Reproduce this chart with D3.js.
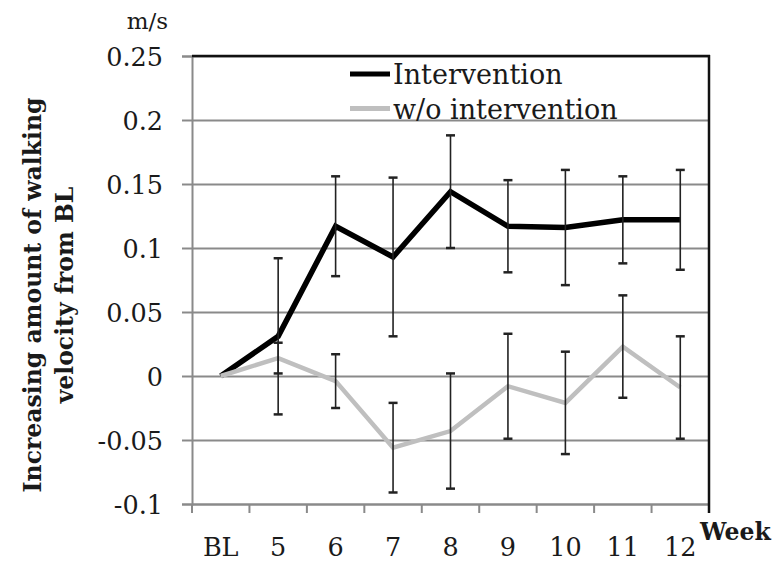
<!DOCTYPE html>
<html>
<head>
<meta charset="utf-8">
<script src="https://cdn.jsdelivr.net/npm/d3@7"></script>
<style>
  html, body { margin: 0; padding: 0; background: #fff; }
  svg { display: block; }
  text { font-family: "DejaVu Serif", "Liberation Serif", serif; fill: #1a1a1a; }
</style>
</head>
<body>
<svg id="chart" width="775" height="566"></svg>
<script>
// Weeks along the x axis
const categories = ["BL", "5", "6", "7", "8", "9", "10", "11", "12"];

// Change in walking velocity from baseline (m/s), mean and error
const interventionMean = [0, 0.031, 0.117, 0.093, 0.144, 0.117, 0.116, 0.122, 0.122];
const interventionErr  = [0, 0.061, 0.039, 0.062, 0.044, 0.036, 0.045, 0.034, 0.039];
const controlMean = [0, 0.014, -0.004, -0.056, -0.043, -0.008, -0.021, 0.023, -0.009];
const controlErr  = [0, 0.012, 0.021, 0.035, 0.045, 0.041, 0.040, 0.040, 0.040];

const seriesNames = ["Intervention", "w/o intervention"];

// Y axis ticks and their printed labels
const yTicks = [0.25, 0.2, 0.15, 0.1, 0.05, 0, -0.05, -0.1];
const yTickLabels = ["0.25", "0.2", "0.15", "0.1", "0.05", "0", "-0.05", "-0.1"];

const axisTitleLines = ["Increasing amount of walking", "velocity from BL"];
const unitLabel = "m/s";
const xTitle = "Week";

const svg = d3.select("#chart");
const plot = { left: 192, right: 709, top: 56, bottom: 504 };

const x = d3.scaleBand().domain(categories).range([plot.left, plot.right]).padding(0);
const y = d3.scaleLinear().domain([-0.1, 0.25]).range([plot.bottom, plot.top]);
const cx = c => x(c) + x.bandwidth() / 2;

const gridColor = "#8a8a8a";

// Horizontal gridlines
const grid = svg.append("g")
  .attr("transform", `translate(${plot.left},0)`)
  .call(d3.axisLeft(y).tickValues(yTicks).tickSize(-(plot.right - plot.left)).tickFormat(""));
grid.select(".domain").remove();
grid.selectAll("line").attr("stroke", gridColor).attr("stroke-width", 2);

// Left axis with tick labels
const yAxis = svg.append("g")
  .attr("transform", `translate(${plot.left},0)`)
  .call(d3.axisLeft(y).tickValues(yTicks).tickSize(10).tickPadding(19)
    .tickFormat((d, i) => yTickLabels[i]));
yAxis.select(".domain").attr("stroke", gridColor).attr("stroke-width", 2);
yAxis.selectAll("line").attr("stroke", gridColor).attr("stroke-width", 2);
yAxis.selectAll("text")
  .style("font-size", "25.5px")
  .attr("fill", "#1a1a1a")
  .attr("dy", "0.36em");

// Bottom axis: labels centred in each week band
const xAxis = svg.append("g")
  .attr("transform", `translate(0,${plot.bottom})`)
  .call(d3.axisBottom(x).tickSize(0).tickPadding(34));
xAxis.select(".domain").attr("stroke", gridColor).attr("stroke-width", 2);
xAxis.selectAll("text").style("font-size", "25.5px").attr("fill", "#1a1a1a");

// Tick marks at the band boundaries
const boundaries = categories.map(c => x(c)).concat([plot.right]);
svg.append("g").selectAll("line")
  .data(boundaries)
  .join("line")
  .attr("x1", d => d).attr("x2", d => d)
  .attr("y1", plot.bottom).attr("y2", plot.bottom + 9)
  .attr("stroke", gridColor).attr("stroke-width", 2);

// Black frame on the top and right sides
svg.append("line")
  .attr("x1", plot.left).attr("x2", plot.right + 1)
  .attr("y1", y(0.25)).attr("y2", y(0.25))
  .attr("stroke", "#111").attr("stroke-width", 2.5);
svg.append("line")
  .attr("x1", plot.right).attr("x2", plot.right)
  .attr("y1", y(0.25) - 1).attr("y2", plot.bottom + 9)
  .attr("stroke", "#111").attr("stroke-width", 2.5);

// Series lines
const line = d3.line().x(d => cx(d.c)).y(d => y(d.v));
const series = [
  { name: seriesNames[0], mean: interventionMean, err: interventionErr, color: "#000", width: 5.5 },
  { name: seriesNames[1], mean: controlMean, err: controlErr, color: "#bfbfbf", width: 4.5 }
];

series.forEach(s => {
  const pts = categories.map((c, i) => ({ c, v: s.mean[i], e: s.err[i] }));
  svg.append("path")
    .datum(pts)
    .attr("d", line)
    .attr("fill", "none")
    .attr("stroke", s.color)
    .attr("stroke-width", s.width)
    .attr("stroke-linejoin", "miter");
});

// Error bars
const capHalf = 4.5;
series.forEach(s => {
  const pts = categories.map((c, i) => ({ c, v: s.mean[i], e: s.err[i] })).filter(d => d.e > 0);
  const g = svg.append("g").attr("stroke", "#222").attr("stroke-width", 1.6);
  g.selectAll(".stem").data(pts).join("line")
    .attr("x1", d => cx(d.c)).attr("x2", d => cx(d.c))
    .attr("y1", d => y(d.v + d.e)).attr("y2", d => y(d.v - d.e));
  g.selectAll(".capTop").data(pts).join("line")
    .attr("x1", d => cx(d.c) - capHalf).attr("x2", d => cx(d.c) + capHalf)
    .attr("y1", d => y(d.v + d.e)).attr("y2", d => y(d.v + d.e))
    .attr("stroke-width", 2.5);
  g.selectAll(".capBot").data(pts).join("line")
    .attr("x1", d => cx(d.c) - capHalf).attr("x2", d => cx(d.c) + capHalf)
    .attr("y1", d => y(d.v - d.e)).attr("y2", d => y(d.v - d.e))
    .attr("stroke-width", 2.5);
});

// Legend
const legend = svg.append("g");
series.forEach((s, i) => {
  const ly = 74 + i * 34.5;
  legend.append("line")
    .attr("x1", 350).attr("x2", 390)
    .attr("y1", ly).attr("y2", ly)
    .attr("stroke", s.color).attr("stroke-width", 5);
  legend.append("text")
    .attr("x", 393).attr("y", ly + 10)
    .style("font-size", "27px")
    .text(s.name);
});

// Unit label above the y axis
svg.append("text")
  .attr("x", 168).attr("y", 29)
  .attr("text-anchor", "end")
  .style("font-size", "23px")
  .text(unitLabel);

// X axis title
svg.append("text")
  .attr("x", 700).attr("y", 540)
  .style("font-size", "23.5px")
  .style("font-weight", "bold")
  .text(xTitle);

// Rotated two-line y axis title
axisTitleLines.forEach((t, i) => {
  svg.append("text")
    .attr("transform", `translate(${41 + i * 32},295) rotate(-90)`)
    .attr("text-anchor", "middle")
    .style("font-size", "23.5px")
    .style("font-weight", "bold")
    .text(t);
});
</script>
</body>
</html>
